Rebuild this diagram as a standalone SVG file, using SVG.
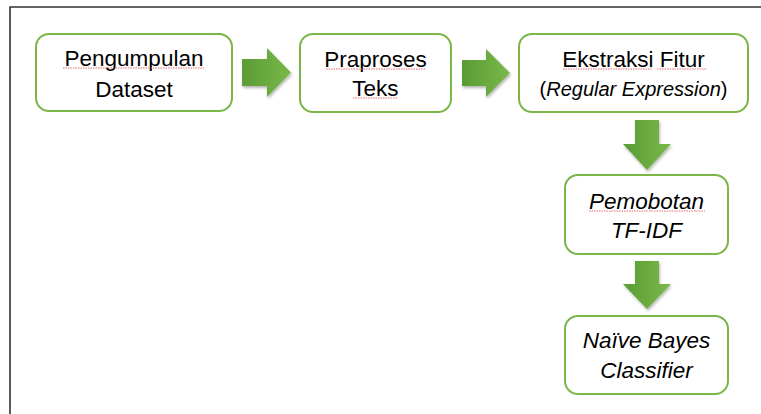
<svg xmlns="http://www.w3.org/2000/svg" width="761" height="414" viewBox="0 0 761 414">
<style>
.box{fill:#fff;stroke:#7ab648;stroke-width:2}
.t{font-family:"Liberation Sans",Arial,sans-serif;font-size:22.5px;fill:#000;text-anchor:middle}
.i{font-style:italic}
.arr{fill:url(#g);filter:url(#sh)}
.sq{fill:none;stroke:#e04848;stroke-width:0.8;stroke-dasharray:1.5 1}
</style>
<defs>
<linearGradient id="g" x1="0" y1="0" x2="1" y2="0">
<stop offset="0" stop-color="#5a9c34"/>
<stop offset="1" stop-color="#79b84a"/>
</linearGradient>
<filter id="sh" x="-20%" y="-20%" width="150%" height="150%">
<feGaussianBlur in="SourceAlpha" stdDeviation="1.5"/>
<feOffset dx="1" dy="2" result="b"/>
<feComponentTransfer><feFuncA type="linear" slope="0.3"/></feComponentTransfer>
<feMerge><feMergeNode/><feMergeNode in="SourceGraphic"/></feMerge>
</filter>
</defs>
<rect width="761" height="414" fill="#fff"/>
<path d="M10 414 V7 H761" fill="none" stroke="#333" stroke-width="1.6"/>

<g id="connectors">
<path class="arr" d="M242 59 H267 V48 L291 72.5 L267 97 V86 H242 Z"/>
<path class="arr" d="M462 60 H486 V49 L510 73 L486 97 V86 H462 Z"/>
<path class="arr" d="M635 120 H659 V144 H671 L647 170 L623 144 H635 Z"/>
<path class="arr" d="M635 261 H659 V284 H671 L647 309 L623 284 H635 Z"/>
</g>

<g id="n1">
<rect class="box" x="36" y="34" width="196" height="77" rx="13"/>
<text class="t" x="134" y="66">Pengumpulan</text>
<text class="t" x="134" y="97">Dataset</text>
<path class="sq" d="M63 68 H204"/>
</g>
<g id="n2">
<rect class="box" x="300" y="34" width="151" height="78" rx="13"/>
<text class="t" x="375.5" y="67">Praproses</text>
<text class="t" x="375.5" y="96">Teks</text>
<path class="sq" d="M326 69 H426 M353 98 H398"/>
</g>
<g id="n3">
<rect class="box" x="519" y="34" width="229" height="78" rx="13"/>
<text class="t" x="633.5" y="67">Ekstraksi Fitur</text>
<text class="t" x="633.5" y="96" style="font-size:20px">(<tspan class="i">Regular Expression</tspan>)</text>
<path class="sq" d="M563 69 H653 M657 69 H706"/>
</g>
<g id="n4">
<rect class="box" x="565" y="175" width="163" height="79" rx="13"/>
<text class="t i" x="646.5" y="209">Pemobotan</text>
<text class="t i" x="646.5" y="238">TF-IDF</text>
<path class="sq" d="M589 211 H705"/>
</g>
<g id="n5">
<rect class="box" x="565" y="316" width="163" height="78" rx="13"/>
<text class="t i" x="646.5" y="348">Naïve Bayes</text>
<text class="t i" x="646.5" y="378">Classifier</text>
</g>
</svg>
